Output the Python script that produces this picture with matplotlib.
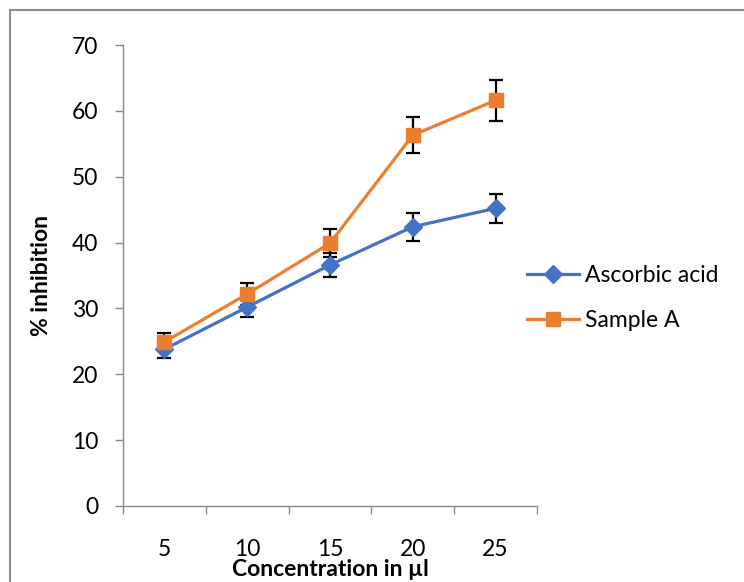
import numpy as np
import matplotlib
matplotlib.use('Agg')
import matplotlib.pyplot as plt
from matplotlib.patches import Rectangle

plt.rcParams['font.family'] = ['Lato', 'DejaVu Sans']

# data
conc = ['5', '10', '15', '20', '25']
ascorbic = [23.8, 30.2, 36.6, 42.4, 45.2]
ascorbic_err = [1.3, 1.5, 1.8, 2.1, 2.25]
sample_a = [24.9, 32.2, 39.9, 56.3, 61.6]
sample_a_err = [1.3, 1.7, 2.1, 2.75, 3.1]

blue = '#4472C4'
orange = '#ED7D31'
grey = '#898989'
fs = 16.5

fig = plt.figure(figsize=(7.44, 5.82), dpi=100)
ax = fig.add_axes([123/744, 1-506/582, (537-123)/744, (506-45)/582])

x = np.arange(1, len(conc)+1)

# error bars under the markers
ax.errorbar(x, ascorbic, yerr=ascorbic_err, fmt='none', ecolor='black',
            elinewidth=1.6, capsize=5, capthick=1.6, zorder=2)
ax.errorbar(x, sample_a, yerr=sample_a_err, fmt='none', ecolor='black',
            elinewidth=1.6, capsize=5, capthick=1.6, zorder=2)
ax.plot(x, ascorbic, color=blue, lw=2.3, marker='D', ms=9,
        label='Ascorbic acid', zorder=3)
ax.plot(x, sample_a, color=orange, lw=2.3, marker='s', ms=10,
        label='Sample A', zorder=4)

ax.set_xlim(0.5, len(conc)+0.5)
ax.set_ylim(0, 70)
ax.set_yticks(np.arange(0, 71, 10))
ax.set_xticks(x)
ax.set_xticklabels(conc)
ax.set_xticks(np.arange(0.5, len(conc)+1, 1), minor=True)

ax.tick_params(axis='x', which='major', length=0, pad=24, labelsize=fs)
ax.tick_params(axis='x', which='minor', length=6, width=1, color=grey, direction='out')
ax.tick_params(axis='y', length=6, width=1, color=grey, direction='out', pad=12, labelsize=fs)

for s in ['top', 'right']:
    ax.spines[s].set_visible(False)
for s in ['left', 'bottom']:
    ax.spines[s].set_color(grey)
    ax.spines[s].set_linewidth(1)

ax.set_xlabel('Concentration in µl', fontsize=fs, fontweight='bold', labelpad=-1)
ax.set_ylabel('% inhibition', fontsize=fs, fontweight='bold', labelpad=14)

ax.legend(loc='center left', bbox_to_anchor=(506/744, 1-298/582),
          bbox_transform=fig.transFigure, frameon=False, fontsize=fs,
          handlelength=2.3, handletextpad=0.26, labelspacing=1.05)

# chart area border (only top and left visible in the crop)
fig.patches.append(Rectangle((10/744, -0.1), 1.2, 1.1-10/582, transform=fig.transFigure,
                             fill=False, edgecolor='#8c8c8c', lw=1.5))

fig.savefig('out.png', dpi=100)
